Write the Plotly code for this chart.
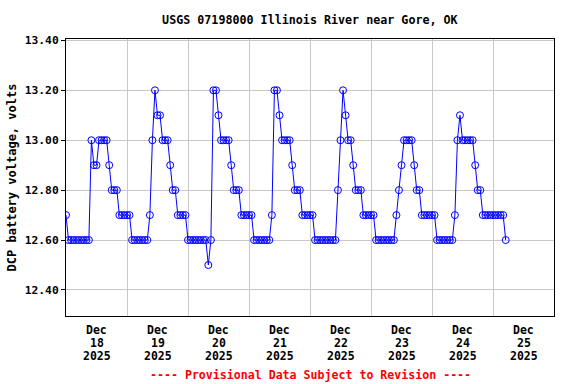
import pandas as pd
import plotly.graph_objects as go

# Hourly DCP battery voltage readings starting 2025-12-18 00:00
start_time = "2025-12-18 00:00"
voltage = [
    # Dec 18
    12.7, 12.6, 12.6, 12.6, 12.6, 12.6, 12.6, 12.6, 12.6, 12.6, 13.0, 12.9,
    12.9, 13.0, 13.0, 13.0, 13.0, 12.9, 12.8, 12.8, 12.8, 12.7, 12.7, 12.7,
    # Dec 19
    12.7, 12.7, 12.6, 12.6, 12.6, 12.6, 12.6, 12.6, 12.6, 12.7, 13.0, 13.2,
    13.1, 13.1, 13.0, 13.0, 13.0, 12.9, 12.8, 12.8, 12.7, 12.7, 12.7, 12.7,
    # Dec 20
    12.6, 12.6, 12.6, 12.6, 12.6, 12.6, 12.6, 12.6, 12.5, 12.6, 13.2, 13.2,
    13.1, 13.0, 13.0, 13.0, 13.0, 12.9, 12.8, 12.8, 12.8, 12.7, 12.7, 12.7,
    # Dec 21
    12.7, 12.7, 12.6, 12.6, 12.6, 12.6, 12.6, 12.6, 12.6, 12.7, 13.2, 13.2,
    13.1, 13.0, 13.0, 13.0, 13.0, 12.9, 12.8, 12.8, 12.8, 12.7, 12.7, 12.7,
    # Dec 22
    12.7, 12.7, 12.6, 12.6, 12.6, 12.6, 12.6, 12.6, 12.6, 12.6, 12.6, 12.8,
    13.0, 13.2, 13.1, 13.0, 13.0, 12.9, 12.8, 12.8, 12.8, 12.7, 12.7, 12.7,
    # Dec 23
    12.7, 12.7, 12.6, 12.6, 12.6, 12.6, 12.6, 12.6, 12.6, 12.6, 12.7, 12.8,
    12.9, 13.0, 13.0, 13.0, 13.0, 12.9, 12.8, 12.8, 12.7, 12.7, 12.7, 12.7,
    # Dec 24
    12.7, 12.7, 12.6, 12.6, 12.6, 12.6, 12.6, 12.6, 12.6, 12.7, 13.0, 13.1,
    13.0, 13.0, 13.0, 13.0, 13.0, 12.9, 12.8, 12.8, 12.7, 12.7, 12.7, 12.7,
    # Dec 25
    12.7, 12.7, 12.7, 12.7, 12.7, 12.6,
]

day_dates = ["2025-12-18", "2025-12-19", "2025-12-20", "2025-12-21",
             "2025-12-22", "2025-12-23", "2025-12-24", "2025-12-25"]
day_month = ["Dec"] * 8
day_num = ["18", "19", "20", "21", "22", "23", "24", "25"]
day_year = ["2025"] * 8

y_ticks = [12.4, 12.6, 12.8, 13.0, 13.2, 13.4]

times = pd.date_range(start=start_time, periods=len(voltage), freq="h")
days = pd.to_datetime(day_dates)
noons = days + pd.Timedelta(hours=12)
x_start = days[0]
x_end = days[-1] + pd.Timedelta(days=1)

FONT = "DejaVu Sans Mono"
BLUE = "#0000FF"

fig = go.Figure()
fig.add_trace(go.Scatter(
    x=times, y=voltage, mode="lines+markers",
    line=dict(color=BLUE, width=1),
    marker=dict(symbol="circle-open", size=7, color=BLUE, line=dict(width=1, color=BLUE)),
    showlegend=False, hoverinfo="x+y",
))

annotations = []
for nx, m, d, yv in zip(noons, day_month, day_num, day_year):
    for txt, shift in ((m, -14), (d, -27), (yv, -40)):
        annotations.append(dict(
            x=nx, y=0, xref="x", yref="paper", text="<b>%s</b>" % txt,
            showarrow=False, yanchor="middle", xanchor="center", yshift=shift,
            font=dict(family=FONT, size=11.5, color="black"),
        ))

annotations.append(dict(
    x=0.5, y=-0.0, xref="paper", yref="paper",
    text="<b>---- Provisional Data Subject to Revision ----</b>",
    showarrow=False, yanchor="middle", xanchor="center", yshift=-59,
    font=dict(family=FONT, size=11.6, color="#FF0000"),
))

fig.update_layout(
    width=576, height=384,
    margin=dict(l=66, r=22, t=39, b=68, autoexpand=False),
    paper_bgcolor="white", plot_bgcolor="white",
    title=dict(text="<b>USGS 07198000 Illinois River near Gore, OK</b>",
               x=0.538, xanchor="center", y=1 - 20 / 384, yanchor="middle",
               font=dict(family=FONT, size=11.7, color="black")),
    annotations=annotations,
    xaxis=dict(
        range=[x_start, x_end], type="date", automargin=False,
        showticklabels=False, ticks="",
        tickvals=list(days[1:]), showgrid=True, gridcolor="#C8C8C8", gridwidth=1,
        showline=True, linecolor="black", linewidth=1, mirror=True,
        zeroline=False,
    ),
    yaxis=dict(
        range=[12.2957, 13.4056], automargin=False,
        tickvals=y_ticks, ticktext=["<b>%.2f</b>" % v for v in y_ticks],
        ticks="outside", ticklen=4, tickcolor="black", tickwidth=1,
        showgrid=True, gridcolor="#C8C8C8", gridwidth=1,
        showline=True, linecolor="black", linewidth=1, mirror=True,
        zeroline=False,
        tickfont=dict(family=FONT, size=11.3, color="black"),
        title=dict(text="<b>DCP battery voltage, volts</b>", standoff=5,
                   font=dict(family=FONT, size=12, color="black")),
    ),
)

fig.write_html("out.html",
               config={"displayModeBar": False},
               post_script="document.body.style.margin='0';document.body.style.overflow='hidden';")
